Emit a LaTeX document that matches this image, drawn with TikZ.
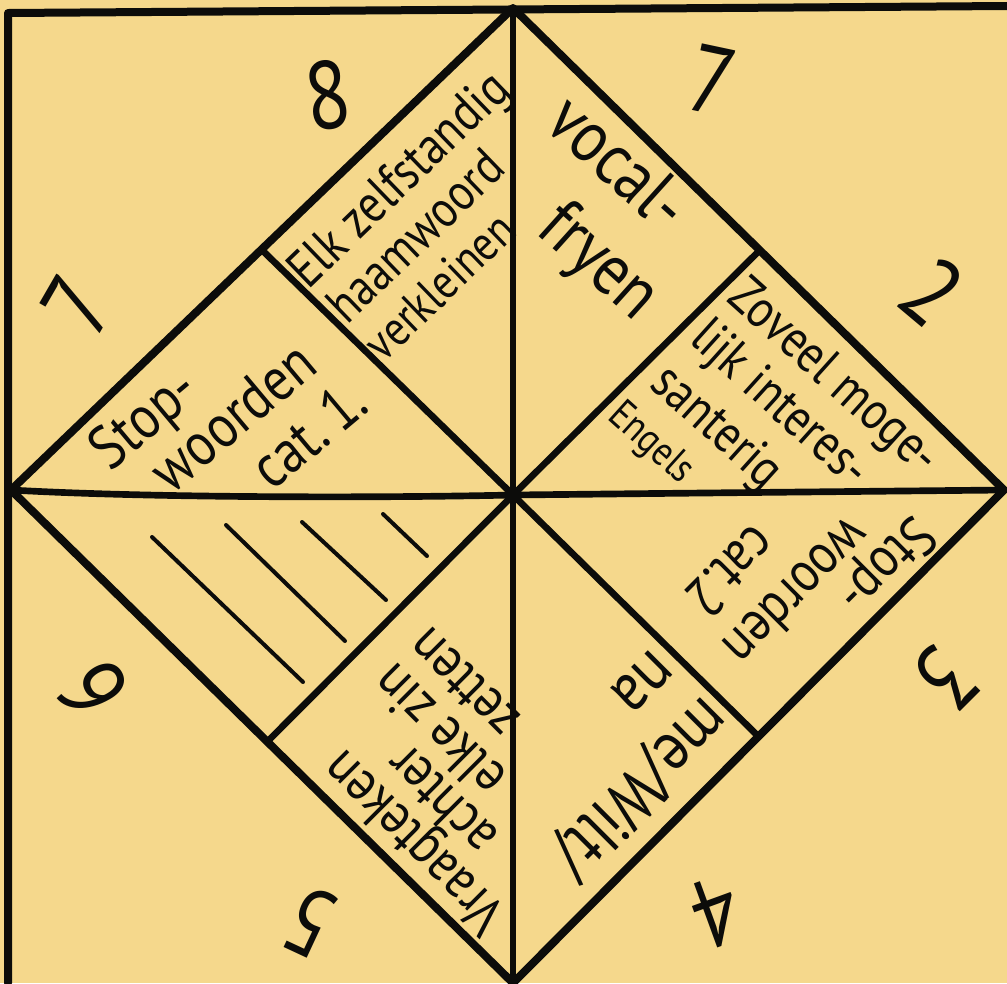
\documentclass[tikz,border=0pt]{standalone}
\usepackage{fontspec}
\setmainfont{PT Sans}[FakeStretch=0.85]
\definecolor{paper}{RGB}{245,216,140}
\definecolor{ink}{RGB}{12,12,10}
\begin{document}
\begin{tikzpicture}[x=0.75pt,y=-0.75pt,
  edge/.style={line width=6pt, draw=ink, line cap=round, line join=round},
  fold/.style={line width=5pt, draw=ink, line cap=round},
  hatch/.style={line width=3pt, draw=ink, line cap=round},
  lbl/.style={inner sep=0pt, text=ink, anchor=mid},
  num/.style={inner sep=0pt, text=ink, anchor=center, font=\fontsize{72pt}{72pt}\selectfont},
  fs/.style={font=\fontsize{#1pt}{#1pt}\selectfont}]
\useasboundingbox (0,0) rectangle (1007,983);
\fill[paper] (0,0) rectangle (1007,983);
% frame
\coordinate (FB) at (8,983);
\coordinate (FC) at (8,13);
\coordinate (FR) at (1007,6);
\draw[edge] (FB) -- (FC) -- (FR);
% diamond
\coordinate (T) at (513,8);
\coordinate (R) at (1004,490);
\coordinate (B) at (513,983);
\coordinate (L) at (11,490);
\coordinate (C) at (513,495);
\coordinate (UL) at (263,251);
\coordinate (UR) at (759,251);
\coordinate (LR) at (758,736);
\coordinate (LL) at (269,740);
\draw[edge] (L) -- (T) -- (R) -- (B) -- cycle;
\draw[fold] (T) -- (B);
\draw[fold] (L) .. controls (150,498) and (380,498) .. (C) .. controls (700,493) and (900,491) .. (R);
\draw[fold] (UL) -- (C);
\draw[fold] (UR) -- (C);
\draw[fold] (LR) -- (C);
\draw[fold] (LL) -- (C);
% hatch
\coordinate (h1a) at (152,537); \coordinate (h1b) at (303,682);
\coordinate (h2a) at (226,525); \coordinate (h2b) at (345,641);
\coordinate (h3a) at (302,522); \coordinate (h3b) at (386,600);
\coordinate (h4a) at (383,514); \coordinate (h4b) at (427,556);
\draw[hatch] (h1a) -- (h1b);
\draw[hatch] (h2a) -- (h2b);
\draw[hatch] (h3a) -- (h3b);
\draw[hatch] (h4a) -- (h4b);
% numbers
\node[num, rotate=8] (n8) at (328,95) {8};
\node[num, rotate=-12] (n7a) at (712,80) {7};
\node[num, rotate=60] (n7b) at (78,305) {7};
\node[num, rotate=-40] (n2) at (932,292) {2};
\node[num, rotate=225] (n3) at (946,678) {3};
\node[num, rotate=200] (n4) at (716,912) {4};
\node[num, rotate=155] (n5) at (310,922) {5};
\node[num, rotate=120] (n6) at (92,690) {6};
% block 1
\node[lbl, fs=40, rotate=44] (a1) at (408,189) {Elk zelfstandig};
\node[lbl, fs=39, rotate=44] (a2) at (425,246) {haamwoord};
\node[lbl, fs=37, rotate=44] (a3) at (449,296) {verkleinen};
% block 2
\node[lbl, fs=46, rotate=40] (b1) at (154,431) {Stop-};
\node[lbl, fs=46, rotate=40] (b2) at (244,430) {woorden};
\node[lbl, fs=46, rotate=40] (b3) at (320,448) {cat.\,1.};
% block 3
\node[lbl, fs=55, rotate=-42] (c1) at (605,178) {vocal-};
\node[lbl, fs=55, rotate=-42] (c2) at (587,275) {fryen};
% block 4
\node[lbl, fs=40, rotate=-42] (d1) at (826,386) {Zoveel moge-};
\node[lbl, fs=40, rotate=-42] (d2) at (772,413) {lijk interes-};
\node[lbl, fs=40, rotate=-42] (d3) at (709,436) {santerig};
\node[lbl, fs=31, rotate=-42] (d4) at (646,449) {Engels};
% block 5
\node[lbl, fs=43, rotate=225] (e1) at (876,555) {Stop-};
\node[lbl, fs=43, rotate=225] (e2) at (786,581) {woorden};
\node[lbl, fs=43, rotate=225] (e3) at (720,560) {cat.2};
% block 6
\node[lbl, fs=52, rotate=225] (g1) at (628,775) {me/Wilt/};
\node[lbl, fs=52, rotate=225] (g2) at (632,672) {na};
% block 7
\node[lbl, fs=43, rotate=135] (k1) at (424,832) {Vraagteken};
\node[lbl, fs=43, rotate=135] (k2) at (452,790) {achter};
\node[lbl, fs=43, rotate=135] (k3) at (450,720) {elke zin};
\node[lbl, fs=43, rotate=135] (k4) at (474,673) {zetten};
\end{tikzpicture}
\end{document}
